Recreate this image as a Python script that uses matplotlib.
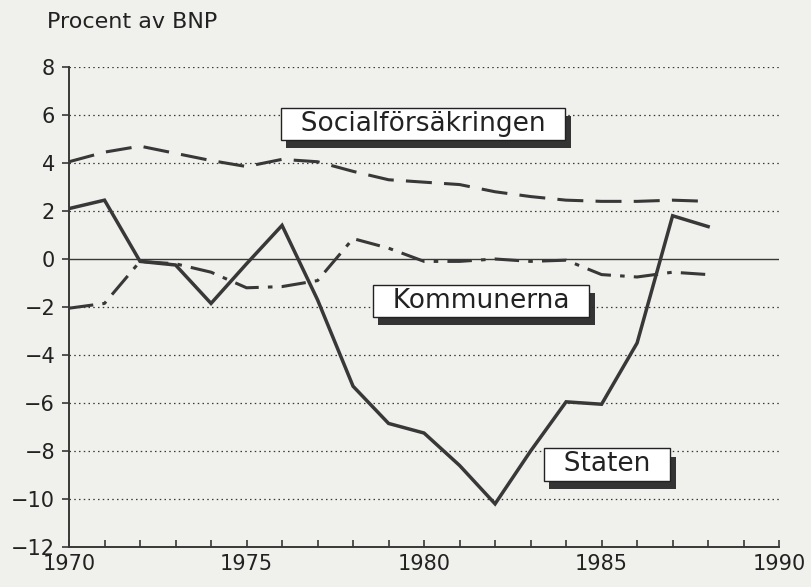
import matplotlib.pyplot as plt
import matplotlib.patheffects as pe
import numpy as np

# Offentliga sektorns finansiella sparande, procent av BNP
years = list(range(1970, 1989))
staten = [2.1, 2.45, -0.1, -0.25, -1.85, -0.2, 1.4, -1.7, -5.3, -6.85,
          -7.25, -8.6, -10.2, -8.0, -5.95, -6.05, -3.5, 1.8, 1.35]
social = [4.05, 4.45, 4.7, 4.4, 4.1, 3.85, 4.15, 4.05, 3.65, 3.3,
          3.2, 3.1, 2.8, 2.6, 2.45, 2.4, 2.4, 2.45, 2.4]
kommunerna = [-2.05, -1.85, -0.1, -0.2, -0.55, -1.2, -1.15, -0.9, 0.85, 0.45,
              -0.1, -0.1, 0.0, -0.1, -0.05, -0.65, -0.75, -0.55, -0.65]

x_ticks = [1970, 1975, 1980, 1985, 1990]
y_ticks = list(range(-12, 9, 2))

bg = '#f0f0ec'
ink = '#383838'

fig = plt.figure(figsize=(8.12, 5.87), dpi=100, facecolor=bg)
ax = fig.add_axes([0.085, 0.068, 0.8745, 0.818], facecolor=bg)

# grid: dotted, except zero line
for y in y_ticks:
    if y == -12:
        continue
    if y == 0:
        ax.axhline(0, color=ink, lw=1.0, zorder=1)
    else:
        ax.axhline(y, color=ink, lw=0.9, ls=(0, (1.2, 2.6)), zorder=1)

ax.plot(years, staten, color=ink, lw=2.5, solid_joinstyle='miter', zorder=3)
ax.plot(years, social, color=ink, lw=2.2, ls=(0, (8.5, 4)), zorder=3)
ax.plot(years, kommunerna, color=ink, lw=2.2, ls=(0, (8, 3, 1.5, 3)), zorder=3)

ax.set_xlim(1970, 1990)
ax.set_ylim(-12, 8)
ax.set_xticks(x_ticks)
ax.set_xticks(range(1970, 1991), minor=True)
ax.set_yticks(y_ticks)
ax.tick_params(axis='x', which='both', direction='in', length=5, width=1.2,
               color=ink, labelsize=15, labelcolor='#222', pad=5)
ax.tick_params(axis='y', direction='out', length=5, width=1.2, color=ink,
               labelsize=15, labelcolor='#222', pad=5)
for s in ['top', 'right']:
    ax.spines[s].set_visible(False)
for s in ['left', 'bottom']:
    ax.spines[s].set_color(ink)
    ax.spines[s].set_linewidth(1.4)

fig.text(0.058, 0.9625, 'Procent av BNP', fontsize=16, color='#222',
         ha='left', va='center')

def label(x, y, txt):
    t = ax.text(x, y, '  ' + txt + '  ', fontsize=19, color='#222',
                ha='center', va='center', zorder=5,
                bbox=dict(boxstyle='square,pad=0.12', fc='white', ec='#222', lw=1.0))
    t.get_bbox_patch().set_path_effects([
        pe.SimplePatchShadow(offset=(4, -6), shadow_rgbFace='#2a2a2a', alpha=0.95),
        pe.Normal()])

label(1979.97, 5.63, 'Socialförsäkringen')
label(1981.6, -1.75, 'Kommunerna')
label(1985.15, -8.56, 'Staten')

fig.savefig('out.png', dpi=100, facecolor=bg)
